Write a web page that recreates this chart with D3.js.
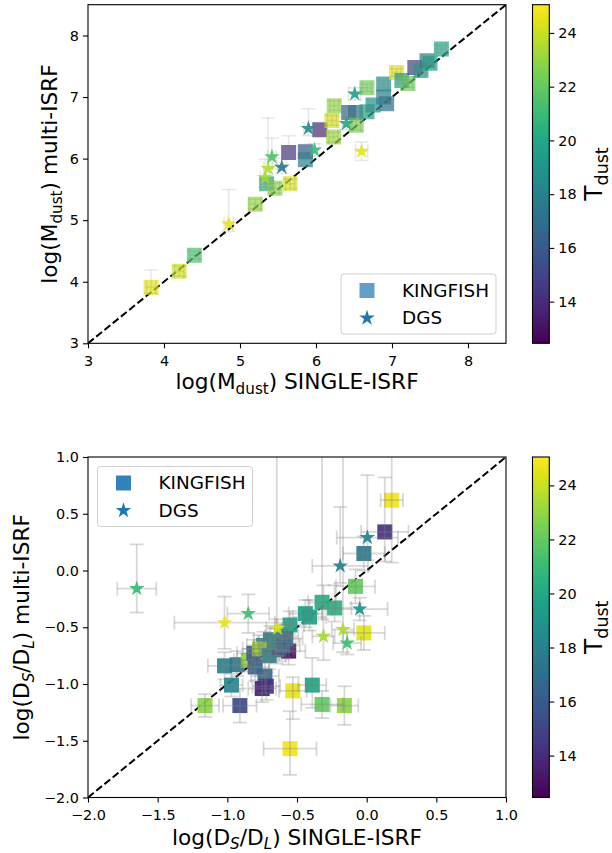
<!DOCTYPE html>
<html>
<head>
<meta charset="utf-8">
<script src="https://cdn.jsdelivr.net/npm/d3@7"></script>
<style>
  body { margin: 0; background: #fff; }
  svg { display: block; font-family: "DejaVu Sans", sans-serif; }
</style>
</head>
<body>
<svg id="fig" width="612" height="853"></svg>
<script>
// ---- top panel: log(M_dust), single vs multi ISRF ----
const mdKfSingle = [3.83, 4.20, 4.40, 5.20, 5.35, 5.46, 5.66, 5.64, 5.86, 5.86, 6.05, 6.21, 6.24, 6.23, 6.43, 6.52,
  6.53, 6.67, 6.67, 6.75, 6.89, 6.89, 6.93, 7.06, 7.13, 7.21, 7.30, 7.38, 7.46, 7.50, 7.65];
const mdKfMulti = [3.91, 4.17, 4.43, 5.26, 5.59, 5.52, 5.59, 6.10, 6.11, 5.98, 6.47, 6.62, 6.86, 6.35, 6.75, 6.75,
  6.54, 7.15, 6.76, 6.87, 7.21, 7.00, 6.89, 7.40, 7.27, 7.22, 7.48, 7.43, 7.59, 7.55, 7.78];
const mdKfT = [24.5, 24.2, 21.5, 23.0, 20.5, 22.8, 24.3, 14.3, 15.8, 18.2, 13.8, 24.3, 23.0, 23.2, 16.5, 17.0,
  22.5, 22.3, 19.8, 19.0, 18.5, 18.0, 17.3, 24.5, 19.5, 22.2, 14.8, 19.2, 18.0, 19.5, 19.8];
const mdKfXerr = [0.06, 0.06, 0.06, 0.08, 0.08, 0.06, 0.06, 0.06, 0.06, 0.06, 0.06, 0.06, 0.06, 0.06, 0.06, 0.06,
  0.06, 0.06, 0.06, 0.06, 0.06, 0.06, 0.06, 0.06, 0.06, 0.06, 0.06, 0.06, 0.06, 0.06, 0.06];
const mdKfYlo = [0.10, 0.08, 0.06, 0.08, 0.08, 0.08, 0.08, 0.10, 0.10, 0.08, 0.08, 0.08, 0.08, 0.08, 0.08, 0.08,
  0.08, 0.06, 0.06, 0.06, 0.06, 0.06, 0.06, 0.06, 0.06, 0.06, 0.06, 0.06, 0.06, 0.06, 0.06];
const mdKfYhi = [0.28, 0.08, 0.06, 0.08, 0.10, 0.08, 0.08, 0.27, 0.12, 0.08, 0.08, 0.08, 0.08, 0.08, 0.08, 0.08,
  0.08, 0.06, 0.06, 0.06, 0.06, 0.06, 0.06, 0.06, 0.06, 0.06, 0.06, 0.06, 0.06, 0.06, 0.06];

const mdDgsSingle = [4.85, 5.33, 5.37, 5.42, 5.55, 5.90, 5.98, 6.40, 6.51, 6.60];
const mdDgsMulti = [4.94, 5.69, 5.84, 6.03, 5.86, 6.49, 6.14, 6.57, 7.05, 6.12];
const mdDgsT = [24.6, 23.2, 23.6, 21.5, 17.3, 18.6, 21.0, 20.0, 19.8, 24.6];
const mdDgsXerr = [0.06, 0.06, 0.06, 0.06, 0.06, 0.06, 0.06, 0.06, 0.08, 0.08];
const mdDgsYlo = [0.12, 0.15, 0.20, 0.20, 0.10, 0.12, 0.10, 0.10, 0.10, 0.15];
const mdDgsYhi = [0.56, 0.30, 0.82, 0.30, 0.15, 0.32, 0.10, 0.10, 0.10, 0.15];

// ---- bottom panel: log(D_S/D_L), single vs multi ISRF ----
const dsKfSingle = [-1.16, -1.02, -0.93, -0.85, -0.80, -0.97, -0.91, -0.73, -0.75, -0.72, -0.53, -0.39, -0.32, -0.16,
  -0.55, -0.56, -0.74, -0.69, -0.61, -0.55, -0.81, -0.77, -0.645, -0.44, -0.41, -0.32, -0.23, -0.08, -0.02, -0.02,
  0.13, 0.18, -0.70, -0.63, -0.58, -0.66, -0.60];
const dsKfMulti = [-1.19, -0.84, -0.83, -0.79, -0.85, -1.01, -1.19, -0.93, -1.04, -1.02, -1.06, -1.01, -1.18, -1.19,
  -1.57, -0.71, -0.66, -0.61, -0.58, -0.48, -0.73, -0.69, -0.70, -0.38, -0.41, -0.28, -0.33, -0.14, -0.55, 0.15,
  0.34, 0.62, -0.75, -0.68, -0.60, -0.63, -0.66];
const dsKfT = [22.8, 18.0, 17.5, 23.0, 16.3, 18.3, 15.3, 16.8, 13.6, 14.2, 24.6, 19.8, 22.0, 22.8,
  24.8, 12.8, 18.5, 17.5, 19.5, 19.8, 16.0, 23.3, 17.0, 19.5, 19.8, 20.3, 20.5, 22.0, 24.5, 17.5,
  14.3, 24.8, 18.0, 15.5, 17.0, 18.8, 16.5];
const dsKfXerr = [0.10, 0.12, 0.10, 0.10, 0.10, 0.08, 0.12, 0.10, 0.10, 0.10, 0.10, 0.10, 0.15, 0.10,
  0.19, 0.12, 0.12, 0.12, 0.12, 0.10, 0.12, 0.12, 0.12, 0.12, 0.12, 0.10, 0.12, 0.14, 0.15, 0.15,
  0.17, 0.08, 0.12, 0.12, 0.12, 0.12, 0.12];
const dsKfYlo = [0.10, 0.12, 0.10, 0.10, 0.12, 0.10, 0.15, 0.15, 0.12, 0.12, 0.25, 0.20, 0.12, 0.17,
  0.23, 0.12, 0.12, 0.12, 0.12, 0.12, 0.12, 0.12, 0.12, 0.12, 0.12, 0.15, 0.12, 0.15, 0.15, 0.15,
  0.26, 0.55, 0.12, 0.12, 0.12, 0.12, 0.12];
const dsKfYhi = [0.10, 0.12, 0.12, 0.10, 0.12, 0.10, 0.15, 0.12, 0.12, 0.12, 0.12, 0.24, 0.12, 0.17,
  0.33, 0.15, 0.12, 0.12, 0.12, 0.12, 0.12, 0.12, 2.00, 0.12, 0.15, 1.60, 0.20, 0.15, 0.15, 0.15,
  0.48, 1.00, 0.12, 0.12, 0.12, 0.12, 0.12];

const dsDgsSingle = [-1.65, -1.02, -0.85, -0.64, -0.31, -0.17, -0.14, -0.05, -0.19, 0.005];
const dsDgsMulti = [-0.16, -0.46, -0.38, -0.51, -0.58, -0.52, -0.64, -0.34, 0.04, 0.29];
const dsDgsT = [21.0, 24.6, 21.3, 24.3, 23.3, 23.5, 21.2, 19.0, 18.0, 18.2];
const dsDgsXerr = [0.14, 0.36, 0.15, 0.08, 0.08, 0.08, 0.10, 0.20, 0.20, 0.22];
const dsDgsYlo = [0.21, 0.23, 0.17, 0.08, 0.21, 0.20, 0.10, 0.10, 0.15, 0.20];
const dsDgsYhi = [0.39, 0.23, 0.17, 0.08, 0.45, 2.00, 0.10, 0.10, 0.52, 0.55];

const cbarTicks = [14, 16, 18, 20, 22, 24];
const tRange = [12.45, 25.05];
const legendNames = ["KINGFISH", "DGS"];

const svg = d3.select("#fig");
svg.append("rect").attr("width", 612).attr("height", 853).attr("fill", "#fff");

const color = d3.scaleSequential(d3.interpolateViridis).domain(tRange);
const squareSym = d3.symbol().type(d3.symbolSquare).size(225);
const starSym = d3.symbol().type(d3.symbolStar).size(76);

// viridis gradient for the colorbars
const grad = svg.append("defs").append("linearGradient")
  .attr("id", "viridis").attr("x1", 0).attr("y1", 1).attr("x2", 0).attr("y2", 0);
d3.range(0, 1.0001, 0.05).forEach(t => {
  grad.append("stop").attr("offset", t).attr("stop-color", d3.interpolateViridis(t));
});

function zip(xs, ys, ts, xe, ylo, yhi) {
  return xs.map((x, i) => ({ x, y: ys[i], t: ts[i], xe: xe[i], ylo: ylo[i], yhi: yhi[i] }));
}

// parts: [text, isSub, italic]
function subLabel(sel, parts, size) {
  const shift = size * 0.22;
  let down = false;
  parts.forEach(p => {
    const t = sel.append("tspan").text(p[0]);
    if (p[1]) {
      t.attr("font-size", size * 0.7);
      if (p[2]) t.attr("font-style", "italic");
      if (!down) { t.attr("dy", shift); down = true; }
    } else if (down) {
      t.attr("dy", -shift);
      down = false;
    }
  });
}

function drawPanel(cfg) {
  const { top, bottom } = cfg;
  const left = 88, right = 506;
  const x = d3.scaleLinear().domain(cfg.xDomain).range([left, right]);
  const y = d3.scaleLinear().domain(cfg.yDomain).range([bottom, top]);
  const g = svg.append("g");

  const clipId = "clip" + cfg.id;
  g.append("clipPath").attr("id", clipId).append("rect")
    .attr("x", left).attr("y", top).attr("width", right - left).attr("height", bottom - top);
  const plot = g.append("g").attr("clip-path", `url(#${clipId})`);

  // dashed 1:1 line
  plot.append("line")
    .attr("x1", x(cfg.xDomain[0])).attr("y1", y(cfg.xDomain[0]))
    .attr("x2", x(cfg.xDomain[1])).attr("y2", y(cfg.xDomain[1]))
    .attr("stroke", "#000").attr("stroke-width", 2).attr("stroke-dasharray", "7.4,3.2");

  const cap = 7;
  function errorBars(data) {
    const eb = plot.append("g").attr("stroke", "#7f7f7f").attr("stroke-width", cfg.errWidth)
      .attr("stroke-opacity", cfg.errAlpha).attr("fill", "none");
    data.forEach(d => {
      const cx = x(d.x), cy = y(d.y);
      const xl = x(d.x - d.xe), xr = x(d.x + d.xe);
      const yl = y(d.y - d.ylo), yh = y(d.y + d.yhi);
      eb.append("line").attr("x1", xl).attr("x2", xr).attr("y1", cy).attr("y2", cy);
      eb.append("line").attr("x1", cx).attr("x2", cx).attr("y1", yl).attr("y2", yh);
      eb.append("line").attr("x1", xl).attr("x2", xl).attr("y1", cy - cap).attr("y2", cy + cap);
      eb.append("line").attr("x1", xr).attr("x2", xr).attr("y1", cy - cap).attr("y2", cy + cap);
      eb.append("line").attr("x1", cx - cap).attr("x2", cx + cap).attr("y1", yl).attr("y2", yl);
      eb.append("line").attr("x1", cx - cap).attr("x2", cx + cap).attr("y1", yh).attr("y2", yh);
    });
  }

  plot.append("g").selectAll("path").data(cfg.kf).join("path")
    .attr("d", squareSym)
    .attr("transform", d => `translate(${x(d.x)},${y(d.y)})`)
    .attr("fill", d => color(d.t)).attr("fill-opacity", cfg.sqAlpha);
  errorBars(cfg.kf);
  errorBars(cfg.dgs);
  plot.append("g").selectAll("path").data(cfg.dgs).join("path")
    .attr("d", starSym)
    .attr("transform", d => `translate(${x(d.x)},${y(d.y)})`)
    .attr("fill", d => color(d.t)).attr("fill-opacity", cfg.starAlpha);

  // axes
  const xAxis = g.append("g").attr("transform", `translate(0,${bottom})`)
    .call(d3.axisBottom(x).tickValues(cfg.ticks).tickFormat(cfg.fmt).tickSize(5).tickPadding(7).tickSizeOuter(0));
  const yAxis = g.append("g").attr("transform", `translate(${left},0)`)
    .call(d3.axisLeft(y).tickValues(cfg.ticks).tickFormat(cfg.fmt).tickSize(5).tickPadding(4).tickSizeOuter(0));
  [xAxis, yAxis].forEach(a => {
    a.select(".domain").remove();
    a.selectAll("line").attr("stroke", "#000").attr("stroke-width", 1.1);
    a.selectAll("text").attr("font-size", 14.4).attr("fill", "#000").attr("font-family", "DejaVu Sans");
  });
  g.append("rect").attr("x", left).attr("y", top).attr("width", right - left).attr("height", bottom - top)
    .attr("fill", "none").attr("stroke", "#000").attr("stroke-width", 1.1);

  // axis labels
  const labSize = 21.7;
  const xl = g.append("text").attr("x", (left + right) / 2).attr("y", bottom + cfg.xLabOff)
    .attr("text-anchor", "middle").attr("font-size", labSize);
  subLabel(xl, cfg.xLabel, labSize);
  const yl = g.append("text")
    .attr("transform", `translate(${cfg.yLabX},${(top + bottom) / 2}) rotate(-90)`)
    .attr("text-anchor", "middle").attr("font-size", labSize);
  subLabel(yl, cfg.yLabel, labSize);

  // legend
  const lg = g.append("g").attr("transform", `translate(${cfg.legend[0]},${cfg.legend[1]})`);
  lg.append("rect").attr("width", 155).attr("height", 60).attr("rx", 3)
    .attr("fill", "#fff").attr("fill-opacity", 0.8).attr("stroke", "#d0d0d0").attr("stroke-width", 1);
  lg.append("path").attr("d", squareSym).attr("transform", "translate(26,16.5)")
    .attr("fill", "#1f77b4").attr("fill-opacity", cfg.sqAlpha);
  lg.append("path").attr("d", starSym).attr("transform", "translate(26,44)")
    .attr("fill", "#1f77b4");
  legendNames.forEach((n, i) => {
    lg.append("text").attr("x", 61).attr("y", 22.5 + i * 27.5).attr("font-size", 18.4).text(n);
  });

  // colorbar
  const cbL = 532.5, cbR = 549.3;
  const c = d3.scaleLinear().domain(tRange).range([bottom, top]);
  g.append("rect").attr("x", cbL).attr("y", top).attr("width", cbR - cbL).attr("height", bottom - top)
    .attr("fill", "url(#viridis)").attr("stroke", "#000").attr("stroke-width", 1.1);
  const cAxis = g.append("g").attr("transform", `translate(${cbR},0)`)
    .call(d3.axisRight(c).tickValues(cbarTicks).tickSize(5).tickPadding(4).tickSizeOuter(0));
  cAxis.select(".domain").remove();
  cAxis.selectAll("line").attr("stroke", "#000").attr("stroke-width", 1.1);
  cAxis.selectAll("text").attr("font-size", 14.4).attr("fill", "#000").attr("font-family", "DejaVu Sans");
  const cl = g.append("text")
    .attr("transform", `translate(602,${(top + bottom) / 2}) rotate(-90)`)
    .attr("text-anchor", "middle").attr("font-size", 25);
  subLabel(cl, [["T"], ["dust", true]], 25);
}

drawPanel({
  id: "top", top: 4.7, bottom: 343.3,
  xDomain: [3, 8.5], yDomain: [3, 8.5], ticks: [3, 4, 5, 6, 7, 8], fmt: d3.format("d"),
  kf: zip(mdKfSingle, mdKfMulti, mdKfT, mdKfXerr, mdKfYlo, mdKfYhi),
  dgs: zip(mdDgsSingle, mdDgsMulti, mdDgsT, mdDgsXerr, mdDgsYlo, mdDgsYhi),
  sqAlpha: 0.7, starAlpha: 0.9, errAlpha: 0.18, errWidth: 1.5, xLabOff: 45.5, yLabX: 57,
  xLabel: [["log(M"], ["dust", true], [") SINGLE-ISRF"]],
  yLabel: [["log(M"], ["dust", true], [") multi-ISRF"]],
  legend: [341, 274]
});

drawPanel({
  id: "bot", top: 457, bottom: 797.5,
  xDomain: [-2, 1], yDomain: [-2, 1], ticks: [-2, -1.5, -1, -0.5, 0, 0.5, 1], fmt: d3.format(".1f"),
  kf: zip(dsKfSingle, dsKfMulti, dsKfT, dsKfXerr, dsKfYlo, dsKfYhi),
  dgs: zip(dsDgsSingle, dsDgsMulti, dsDgsT, dsDgsXerr, dsDgsYlo, dsDgsYhi),
  sqAlpha: 0.92, starAlpha: 0.92, errAlpha: 0.3, errWidth: 1.8, xLabOff: 47, yLabX: 29,
  xLabel: [["log(D"], ["S", true, true], ["/D"], ["L", true, true], [") SINGLE-ISRF"]],
  yLabel: [["log(D"], ["S", true, true], ["/D"], ["L", true, true], [") multi-ISRF"]],
  legend: [97.5, 466.5]
});
</script>
</body>
</html>
